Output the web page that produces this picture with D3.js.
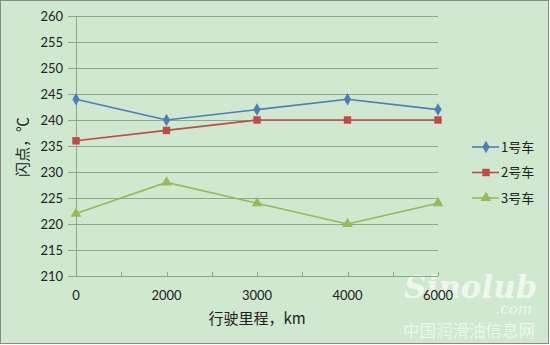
<!DOCTYPE html>
<html>
<head>
<meta charset="utf-8">
<script src="https://cdn.jsdelivr.net/npm/d3@7"></script>
<style>
  body { margin: 0; background: #fff; }
  svg { display: block; }
</style>
</head>
<body>
<svg id="container"></svg>
<script>
// data
const categories = ['0', '2000', '3000', '4000', '6000']
const car1 = [244, 240, 242, 244, 242]
const car2 = [236, 238, 240, 240, 240]
const car3 = [222, 228, 224, 220, 224]
const seriesNames = ['1号车', '2号车', '3号车']
const yTicks = [210, 215, 220, 225, 230, 235, 240, 245, 250, 255, 260]

const W = 550
const H = 345
const plot = { left: 76, right: 438, top: 16, bottom: 276 }
const tickFont = 'Lato, "Open Sans", sans-serif'
const cjkFont = '"Noto Sans CJK SC", sans-serif'

const svg = d3.select('#container').attr('width', W).attr('height', H)

// chart area background + border
svg.append('rect')
  .attr('x', 0.5).attr('y', 0.5)
  .attr('width', W - 2).attr('height', H - 2)
  .attr('fill', '#cfe8cf')
  .attr('stroke', '#8a8a8a')

// watermark (drawn first so the chart sits on top of it)
const wm = svg.append('g').attr('fill', '#fff').attr('opacity', 0.65)
wm.append('text')
  .attr('x', 404).attr('y', 298)
  .attr('font-family', '"DejaVu Serif", serif')
  .attr('font-style', 'italic')
  .attr('font-weight', 'bold')
  .attr('font-size', 31)
  .text('Sinolub')
wm.append('text')
  .attr('x', 532).attr('y', 314)
  .attr('text-anchor', 'end')
  .attr('font-family', '"DejaVu Serif", serif')
  .attr('font-style', 'italic')
  .attr('font-size', 15)
  .text('.com')
wm.append('text')
  .attr('x', 535).attr('y', 337)
  .attr('text-anchor', 'end')
  .attr('font-family', cjkFont)
  .attr('font-size', 16.5)
  .text('中国润滑油信息网')

const x = d3.scalePoint().domain(categories).range([plot.left, plot.right])
const y = d3.scaleLinear().domain([210, 260]).range([plot.bottom, plot.top])

// gridlines
svg.append('g')
  .selectAll('line')
  .data(yTicks)
  .join('line')
  .attr('x1', plot.left - 8)
  .attr('x2', plot.right)
  .attr('y1', d => Math.round(y(d)) + 0.5)
  .attr('y2', d => Math.round(y(d)) + 0.5)
  .attr('stroke', '#8fa78c')

// y axis line
svg.append('line')
  .attr('x1', plot.left + 0.5).attr('x2', plot.left + 0.5)
  .attr('y1', plot.top).attr('y2', plot.bottom)
  .attr('stroke', '#8fa78c')

// y tick labels
svg.append('g')
  .selectAll('text')
  .data(yTicks)
  .join('text')
  .attr('x', plot.left - 13)
  .attr('y', d => y(d))
  .attr('dy', '0.35em')
  .attr('text-anchor', 'end')
  .attr('font-family', tickFont)
  .attr('font-size', 13)
  .attr('fill', '#222')
  .text(d => d)

// x axis ticks: at categories and midpoints
const step = x.step()
const xTickPos = []
categories.forEach((c, i) => {
  xTickPos.push(x(c))
  if (i < categories.length - 1) xTickPos.push(x(c) + step / 2)
})
svg.append('g')
  .selectAll('line')
  .data(xTickPos)
  .join('line')
  .attr('x1', d => Math.round(d) + 0.5)
  .attr('x2', d => Math.round(d) + 0.5)
  .attr('y1', plot.bottom - 4)
  .attr('y2', plot.bottom)
  .attr('stroke', '#8fa78c')

svg.append('g')
  .selectAll('text')
  .data(categories)
  .join('text')
  .attr('x', d => x(d))
  .attr('y', plot.bottom + 24)
  .attr('text-anchor', 'middle')
  .attr('font-family', tickFont)
  .attr('font-size', 13)
  .attr('fill', '#222')
  .text(d => d)

// axis titles
svg.append('text')
  .attr('x', 257)
  .attr('y', 324)
  .attr('text-anchor', 'middle')
  .attr('font-family', cjkFont)
  .attr('font-size', 15)
  .attr('fill', '#222')
  .text('行驶里程，km')

svg.append('text')
  .attr('transform', 'translate(28,147) rotate(-90)')
  .attr('text-anchor', 'middle')
  .attr('font-family', cjkFont)
  .attr('font-size', 15)
  .attr('fill', '#222')
  .text('闪点，℃')

// series
const series = [
  { name: seriesNames[0], values: car1, color: '#4a7ebb', shape: d3.symbolDiamond, size: 45 },
  { name: seriesNames[1], values: car2, color: '#be4b48', shape: d3.symbolSquare, size: 55 },
  { name: seriesNames[2], values: car3, color: '#98b954', shape: d3.symbolTriangle, size: 50 }
]

const line = d3.line()
  .x((d, i) => x(categories[i]))
  .y(d => y(d))

const gS = svg.append('g')
series.forEach(s => {
  gS.append('path')
    .attr('d', line(s.values))
    .attr('fill', 'none')
    .attr('stroke', s.color)
    .attr('stroke-width', 1.6)
  gS.append('g')
    .selectAll('path')
    .data(s.values)
    .join('path')
    .attr('transform', (d, i) => `translate(${x(categories[i])},${y(d)})`)
    .attr('d', d3.symbol().type(s.shape).size(s.size))
    .attr('fill', s.color)
})

// legend
const legend = svg.append('g')
series.forEach((s, i) => {
  const ly = 147 + i * 25.5
  const g = legend.append('g').attr('transform', `translate(0,${ly})`)
  g.append('line')
    .attr('x1', 472).attr('x2', 499)
    .attr('stroke', s.color).attr('stroke-width', 1.6)
  g.append('path')
    .attr('transform', 'translate(486,0)')
    .attr('d', d3.symbol().type(s.shape).size(s.size))
    .attr('fill', s.color)
  g.append('text')
    .attr('x', 501)
    .attr('dy', '0.35em')
    .attr('font-family', cjkFont)
    .attr('font-size', 13)
    .attr('fill', '#222')
    .text(s.name)
})
</script>
</body>
</html>
